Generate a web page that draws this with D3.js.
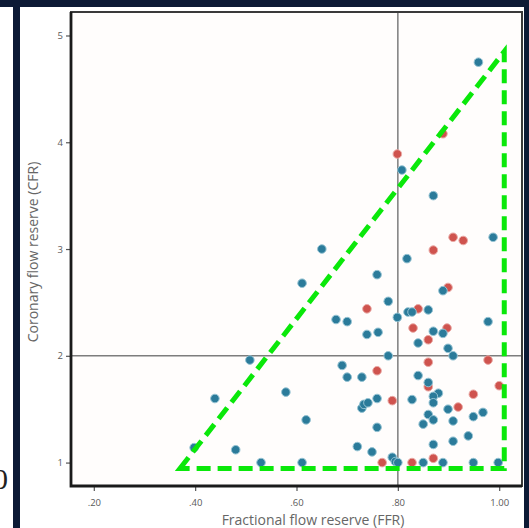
<!DOCTYPE html>
<html>
<head>
<meta charset="utf-8">
<script src="https://cdn.jsdelivr.net/npm/d3@7"></script>
<style>
  body { margin: 0; background: #fff; }
  svg { display: block; }
</style>
</head>
<body>
<div class="chart"></div>
<script>
// values
var blueFFR = [0.959, 0.808, 0.870, 0.650, 0.988, 0.818, 0.759, 0.611, 0.889, 0.781,
  0.820, 0.828, 0.860, 0.678, 0.700, 0.799, 0.978, 0.870, 0.889, 0.739,
  0.761, 0.840, 0.899, 0.909, 0.781, 0.508, 0.690, 0.700, 0.729, 0.840,
  0.860, 0.579, 0.880, 0.870, 0.870, 0.439, 0.759, 0.828, 0.729, 0.733,
  0.741, 0.899, 0.968, 0.949, 0.619, 0.860, 0.870, 0.909, 0.850, 0.759,
  0.939, 0.909, 0.870, 0.720, 0.749, 0.398, 0.480, 0.530, 0.611, 0.789,
  0.795, 0.800, 0.850, 0.889, 0.949, 0.998];
var blueCFR = [4.75, 3.74, 3.50, 3.00, 3.11, 2.91, 2.76, 2.68, 2.61, 2.51,
  2.41, 2.41, 2.43, 2.34, 2.32, 2.36, 2.32, 2.23, 2.21, 2.20,
  2.22, 2.12, 2.07, 2.00, 2.00, 1.96, 1.91, 1.80, 1.80, 1.815,
  1.75, 1.66, 1.65, 1.62, 1.56, 1.60, 1.60, 1.59, 1.51, 1.545,
  1.56, 1.50, 1.47, 1.43, 1.40, 1.45, 1.40, 1.39, 1.36, 1.33,
  1.25, 1.20, 1.17, 1.15, 1.10, 1.14, 1.12, 1.00, 1.00, 1.05,
  1.01, 1.00, 1.00, 1.00, 1.00, 1.00];
var redFFR = [0.889, 0.799, 0.909, 0.929, 0.870, 0.899, 0.739, 0.840, 0.830, 0.897,
  0.860, 0.978, 0.860, 0.759, 0.860, 1.000, 0.949, 0.789, 0.919, 0.769,
  0.828, 0.870];
var redCFR = [4.08, 3.89, 3.11, 3.08, 2.99, 2.64, 2.44, 2.44, 2.26, 2.26,
  2.15, 1.96, 1.94, 1.86, 1.71, 1.72, 1.64, 1.58, 1.52, 1.00,
  1.00, 1.04];
var xTicks = [0.2, 0.4, 0.6, 0.8, 1.0];
var yTicks = [1, 2, 3, 4, 5];
var cutFFR = 0.8, cutCFR = 2;
// dashed triangle drawn over the plot (FFR, CFR)
var triFFR = [0.370, 1.010, 1.010];
var triCFR = [0.944, 4.85, 0.944];

var width = 529, height = 528;
var plot = {left: 71, top: 12, right: 522, bottom: 486};

var svg = d3.select(".chart")
  .append("svg")
  .attr("width", width)
  .attr("height", height);

// slide edges
svg.append("rect").attr("x", 0).attr("y", 0).attr("width", width).attr("height", 7).attr("fill", "#0c1a35");
svg.append("rect").attr("x", 13).attr("y", 0).attr("width", 7).attr("height", height).attr("fill", "#0c1a35");
svg.append("rect").attr("x", 524).attr("y", 0).attr("width", 5).attr("height", height).attr("fill", "#0c1a35");
svg.append("text")
  .attr("x", 8).attr("y", 489)
  .attr("text-anchor", "end")
  .attr("font-family", "Liberation Serif, serif")
  .attr("font-size", "30px")
  .attr("fill", "#222")
  .text("0");

var x = d3.scaleLinear()
  .domain([0.155, 1.045])
  .range([71, 522]);

var y = d3.scaleLinear()
  .domain([0.79, 5.22])
  .range([485, 12]);

svg.append("rect")
  .attr("x", plot.left).attr("y", plot.top)
  .attr("width", plot.right - plot.left)
  .attr("height", plot.bottom - plot.top)
  .attr("fill", "#fffdfc");

// axes
var fmt = function(d) {
  var s = d3.format(".2f")(d);
  return d < 1 ? s.slice(1) : s;
};

var xAxis = svg.append("g")
  .attr("transform", "translate(0," + plot.bottom + ")")
  .call(d3.axisBottom(x).tickValues(xTicks).tickFormat(fmt).tickSize(5).tickPadding(8));

var yAxis = svg.append("g")
  .attr("transform", "translate(" + plot.left + ",0)")
  .call(d3.axisLeft(y).tickValues(yTicks).tickFormat(d3.format("d")).tickSize(5).tickPadding(3));

[xAxis, yAxis].forEach(function(a) {
  a.select(".domain").remove();
  a.selectAll(".tick line").attr("stroke", "#555").attr("stroke-width", 1.2);
  a.selectAll(".tick text")
    .attr("fill", "#5a5a5a")
    .attr("font-family", "Open Sans, sans-serif")
    .attr("font-size", "9.5px");
});

// reference lines
svg.append("line")
  .attr("x1", x(cutFFR)).attr("x2", x(cutFFR))
  .attr("y1", plot.top).attr("y2", plot.bottom)
  .attr("stroke", "#7d7d7d").attr("stroke-width", 1.5);
svg.append("line")
  .attr("x1", plot.left).attr("x2", plot.right)
  .attr("y1", y(cutCFR)).attr("y2", y(cutCFR))
  .attr("stroke", "#7d7d7d").attr("stroke-width", 1.5);

// points
var red = redFFR.map(function(d, i) { return {ffr: d, cfr: redCFR[i]}; });
var blue = blueFFR.map(function(d, i) { return {ffr: d, cfr: blueCFR[i]}; });

svg.selectAll(".red")
  .data(red)
  .enter().append("circle")
  .attr("class", "red")
  .attr("cx", function(d) { return x(d.ffr); })
  .attr("cy", function(d) { return y(d.cfr); })
  .attr("r", 4.3)
  .attr("fill", "#cf534e")
  .attr("stroke", "#eaa9a5")
  .attr("stroke-width", 1);

svg.selectAll(".blue")
  .data(blue)
  .enter().append("circle")
  .attr("class", "blue")
  .attr("cx", function(d) { return x(d.ffr); })
  .attr("cy", function(d) { return y(d.cfr); })
  .attr("r", 4.3)
  .attr("fill", "#2b7b9a")
  .attr("stroke", "#96c4d4")
  .attr("stroke-width", 1);

// frame: top/right thinner, axis sides heavier
svg.append("rect")
  .attr("x", plot.left).attr("y", plot.top)
  .attr("width", plot.right - plot.left)
  .attr("height", plot.bottom - plot.top)
  .attr("fill", "none")
  .attr("stroke", "#3a3a3a")
  .attr("stroke-width", 2);
svg.append("path")
  .attr("d", "M" + plot.left + "," + plot.top + "V" + plot.bottom + "H" + plot.right)
  .attr("fill", "none")
  .attr("stroke", "#1a1a1a")
  .attr("stroke-width", 2.8);

// triangle
var tri = triFFR.map(function(d, i) { return [x(d), y(triCFR[i])]; });
svg.append("path")
  .attr("d", d3.line()(tri) + "Z")
  .attr("fill", "none")
  .attr("stroke", "#0ae80a")
  .attr("stroke-width", 5)
  .attr("stroke-dasharray", "14,7");

// axis titles
svg.append("text")
  .attr("x", 313).attr("y", 525)
  .attr("text-anchor", "middle")
  .attr("font-family", "Open Sans, sans-serif")
  .attr("font-size", "14px")
  .attr("fill", "#666")
  .text("Fractional flow reserve (FFR)");

svg.append("text")
  .attr("transform", "translate(38,252) rotate(-90)")
  .attr("text-anchor", "middle")
  .attr("font-family", "Open Sans, sans-serif")
  .attr("font-size", "14px")
  .attr("fill", "#666")
  .text("Coronary flow reserve (CFR)");
</script>
</body>
</html>
